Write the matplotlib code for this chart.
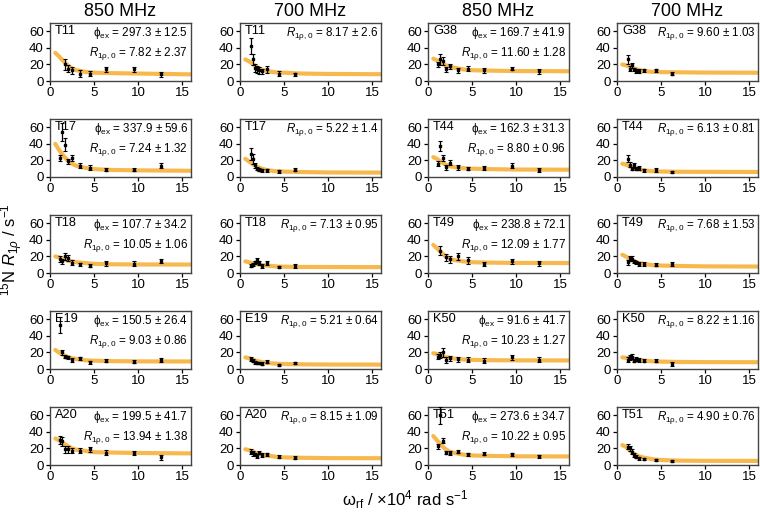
import numpy as np
import matplotlib
matplotlib.use('Agg')
from matplotlib import pyplot as plt

plt.rcParams['font.family'] = ['Liberation Sans', 'DejaVu Sans']
plt.rcParams['mathtext.fontset'] = 'custom'
plt.rcParams['mathtext.rm'] = 'Liberation Sans'
plt.rcParams['mathtext.it'] = 'Liberation Sans:italic'
plt.rcParams['mathtext.bf'] = 'Liberation Sans:bold'

nan = np.nan

# spin-lock field strengths (x 10^4 rad/s)
x850 = [1.1, 1.4, 1.7, 2.05, 2.45, 3.45, 4.5, 6.3, 9.5, 12.6]
x700 = [1.25, 1.5, 1.65, 1.9, 2.1, 2.45, 3.1, 4.4, 6.25]
# fitted curve
xfit = [0.6, 1, 1.5, 2, 2.5, 3, 4, 5, 7, 10, 16]

headers = ['850 MHz', '700 MHz', '850 MHz', '700 MHz']

# column 1 / 2 : residues T11..A20, column 3 / 4 : G38..T51
residues_left = ['T11', 'T17', 'T18', 'E19', 'A20']
residues_right = ['G38', 'T44', 'T49', 'K50', 'T51']

phi_left = ['297.3 ± 12.5', '337.9 ± 59.6', '107.7 ± 34.2', '150.5 ± 26.4', '199.5 ± 41.7']
r0_850_left = ['7.82 ± 2.37', '7.24 ± 1.32', '10.05 ± 1.06', '9.03 ± 0.86', '13.94 ± 1.38']
r0_700_left = ['8.17 ± 2.6', '5.22 ± 1.4', '7.13 ± 0.95', '5.21 ± 0.64', '8.15 ± 1.09']
phi_right = ['169.7 ± 41.9', '162.3 ± 31.3', '238.8 ± 72.1', '91.6 ± 41.7', '273.6 ± 34.7']
r0_850_right = ['11.60 ± 1.28', '8.80 ± 0.96', '12.09 ± 1.77', '10.23 ± 1.27', '10.22 ± 0.95']
r0_700_right = ['9.60 ± 1.03', '6.13 ± 0.81', '7.68 ± 1.53', '8.22 ± 1.16', '4.90 ± 0.76']

# R1rho values and errors at 850 MHz
y850_left = [
    [nan, nan, 20, 15, 13, 9, 9, 14, 14, 8],
    [23, 54, 39, 19, 23, 13.5, 11, 9, 9, 13.5],
    [17, 14, 20, 18, 12.5, 10.5, 9, 12, 11, 14.5],
    [53, 20, 15, 14, 11, 13, 8, 10, 9, 11],
    [30, 28.5, 19, 19, 17, 17, 19, 15, 14.5, 9.5],
]
e850_left = [
    [nan, nan, 7, 4, 4, 4, 3, 3, 3, 3],
    [4, 11, 8, 3, 4, 3, 3, 2, 2, 3],
    [4, 3, 4, 4, 3, 2, 2, 3, 3, 3],
    [10, 3, 2, 2, 2, 2, 2, 2, 2, 2],
    [5, 5, 4, 4, 3, 3, 3, 3, 3, 3],
]
y850_right = [
    [20, 26, 24, 14, 18, 13, 15, 13, 15, 12],
    [16, 37, 23, 12, 17, 12, 10, 11, 13.5, 8.5],
    [nan, 27, nan, 19, 16.5, 20, 15.4, 11, 14, 11.5],
    [15, 17, 20, 11, 13, 12, 11, 10, 14, 11],
    [22.5, 60, 29, 15, 14.5, 16, 13, 13.5, 13, 10.5],
]
e850_right = [
    [3, 7, 5, 3, 3, 3, 3, 3, 2, 3],
    [3, 6, 4, 3, 3, 3, 2, 2, 3, 2],
    [nan, 5, nan, 4, 4, 4, 4, 2, 3, 3],
    [3, 4, 5, 4, 3, 3, 3, 3, 3, 3],
    [3, 10, 3, 2, 2, 2, 2, 2, 2, 2],
]

# R1rho values and errors at 700 MHz
y700_left = [
    [42, 26, 16, 14, 13, 12, 14, 9, 8],
    [28, 22, 14, 10, 9, 8, 8, 7, 9],
    [9, 10, 13, 15.5, 12, 8.6, 12, 7, 8.6],
    [12, 10, 8, 7, 7, 6.5, 9, 4.5, 7],
    [16, 14, 13, 11, 15, 12, 13, 10, 9],
]
e700_left = [
    [10, 7, 5, 4, 4, 3, 4, 3, 2],
    [7, 6, 3, 2, 2, 2, 2, 2, 2],
    [2, 2, 2, 3, 2, 2, 2, 1.5, 2],
    [2, 2, 1.5, 1.5, 1.5, 1.5, 2, 1, 1.5],
    [3, 3, 2, 2, 2, 2, 2, 2, 2],
]
y700_right = [
    [26, 15, 19, 14, 12, 12, 13, 13, 9],
    [22, 15, 10, 14, 10, 11, 8, 8.5, 6],
    [13, 18, 17.5, 14, 13, 11, 11, 10, 11],
    [11, 14, 15, 10, 12, 11, 10, 10, 6],
    [22, 20, 16, 12, 10, 8, 7, 6, 5],
]
e700_right = [
    [5, 3, 3, 2, 2, 2, 2, 2, 2],
    [4, 3, 2, 3, 2, 2, 2, 2, 1.5],
    [3, 3, 3, 2, 2, 2, 2, 2, 2],
    [3, 3, 3, 2, 2, 2, 2, 2, 2],
    [3, 3, 3, 2, 2, 1.5, 1.5, 1, 1],
]

# fitted curves
fit850_left = [
    [34, 30, 24, 19, 15, 13, 11, 10, 9.5, 9, 8],
    [40, 33, 26, 20, 16, 13.5, 11, 9.5, 8.5, 8, 7.5],
    [20, 19, 17, 15, 14, 13, 12, 11, 10.5, 10.3, 10.2],
    [23, 20, 17, 14.5, 13, 12, 10.5, 10, 9.5, 9.2, 9.1],
    [32, 30, 26, 23, 20, 18.5, 17, 15.5, 15, 14.5, 14],
]
fit700_left = [
    [26, 24, 20, 16, 14, 12, 10.5, 10, 9, 8.5, 8.2],
    [22, 19, 15, 12, 10, 8.5, 7, 6.5, 6, 5.5, 5.3],
    [14, 13, 11.5, 10.5, 9.5, 9, 8, 7.6, 7.3, 7.2, 7.1],
    [14, 13, 11, 9.5, 8.3, 7.5, 6.5, 6, 5.6, 5.4, 5.3],
    [19, 18, 16, 14, 12.5, 11.5, 10, 9.2, 8.7, 8.3, 8.2],
]
fit850_right = [
    [27, 25, 22, 19, 17.5, 16, 14, 13, 12.5, 12, 11.8],
    [24, 22, 18, 15, 13, 12, 10.5, 10, 9.5, 9, 8.8],
    [34, 30, 25, 20, 17, 15.5, 14, 13, 12.5, 12.2, 12],
    [19, 18, 16, 14.5, 13.5, 12.5, 11.5, 11, 10.6, 10.4, 10.3],
    [35, 30, 24, 19, 16, 14.5, 12.5, 11.5, 11, 10.5, 10.3],
]
fit700_right = [
    [20, 19, 17, 15, 13.5, 12, 11, 10.7, 10.5, 10.2, 10],
    [16, 15, 12.5, 10.5, 9, 8, 7, 6.6, 6.3, 6.2, 6.1],
    [22, 20, 16.5, 14, 12, 11, 9.5, 9, 8.5, 8, 7.8],
    [14, 13.5, 12.5, 11.5, 10.8, 10.2, 9.3, 8.9, 8.5, 8.3, 8.2],
    [24, 22, 17, 13, 10.5, 9, 7, 6, 5.3, 5, 4.9],
]

W, H = 760, 516
fig = plt.figure(figsize=(W / 100, H / 100), dpi=100)

col_left = [50, 240, 428, 617]
ax_w = 141
ax_h = 58
row_top = [23, 119, 215, 311, 407]
curve_color = '#F7B23B'
spine_color = '#444444'
note_size = 8.4


def panel(ax, x, y, e, fit, res, phi, r0):
    ax.plot(xfit, fit, color=curve_color, lw=3, alpha=0.9, zorder=2,
            solid_capstyle='round')
    x = np.array(x)
    y = np.array(y, dtype=float)
    e = np.array(e, dtype=float)
    ok = ~np.isnan(y)
    ax.errorbar(x[ok], y[ok], yerr=e[ok], fmt='s', ms=2, color='black',
                ecolor='black', elinewidth=0.9, capsize=1.2, capthick=0.8,
                zorder=3)
    ax.set_xlim(0, 16)
    ax.set_ylim(0, 70)
    ax.set_xticks([0, 5, 10, 15])
    ax.set_yticks([0, 20, 40, 60])
    ax.tick_params(direction='out', length=3, width=0.9, labelsize=9.5,
                   pad=1.5, colors='black')
    for s in ax.spines.values():
        s.set_color(spine_color)
        s.set_linewidth(1.0)
    ax.text(0.035, 0.97, res, transform=ax.transAxes, ha='left', va='top',
            fontsize=9.2)
    if phi is not None:
        ax.text(0.98, 0.97, r'$\mathrm{\phi}_{\rm ex}$ = ' + phi,
                transform=ax.transAxes, ha='right', va='top', fontsize=note_size)
        ax.text(0.98, 0.62, r'$R_{\rm 1\rho,0}$ = ' + r0,
                transform=ax.transAxes, ha='right', va='top', fontsize=note_size)
    else:
        ax.text(0.985, 0.97, r'$R_{\rm 1\rho,0}$ = ' + r0,
                transform=ax.transAxes, ha='right', va='top', fontsize=note_size)


for r in range(5):
    for c in range(4):
        left = col_left[c] / W
        bottom = 1 - (row_top[r] + ax_h) / H
        ax = fig.add_axes([left, bottom, ax_w / W, ax_h / H])
        if c == 0:
            panel(ax, x850, y850_left[r], e850_left[r], fit850_left[r],
                  residues_left[r], phi_left[r], r0_850_left[r])
        elif c == 1:
            panel(ax, x700, y700_left[r], e700_left[r], fit700_left[r],
                  residues_left[r], None, r0_700_left[r])
        elif c == 2:
            panel(ax, x850, y850_right[r], e850_right[r], fit850_right[r],
                  residues_right[r], phi_right[r], r0_850_right[r])
        else:
            panel(ax, x700, y700_right[r], e700_right[r], fit700_right[r],
                  residues_right[r], None, r0_700_right[r])
        if r == 0:
            ax.set_title(headers[c], fontsize=13, pad=5)

fig.text(12 / W, 1 - 250 / H, r'$^{15}$N $R_{1\rho}$ / s$^{-1}$',
         rotation=90, ha='center', va='center', fontsize=12)
fig.text(405 / W, 1 - 500 / H, r'$\mathrm{\omega}_{\rm rf}$ / ×10$^4$ rad s$^{-1}$',
         ha='center', va='center', fontsize=12)

fig.savefig('out.png', dpi=100)
